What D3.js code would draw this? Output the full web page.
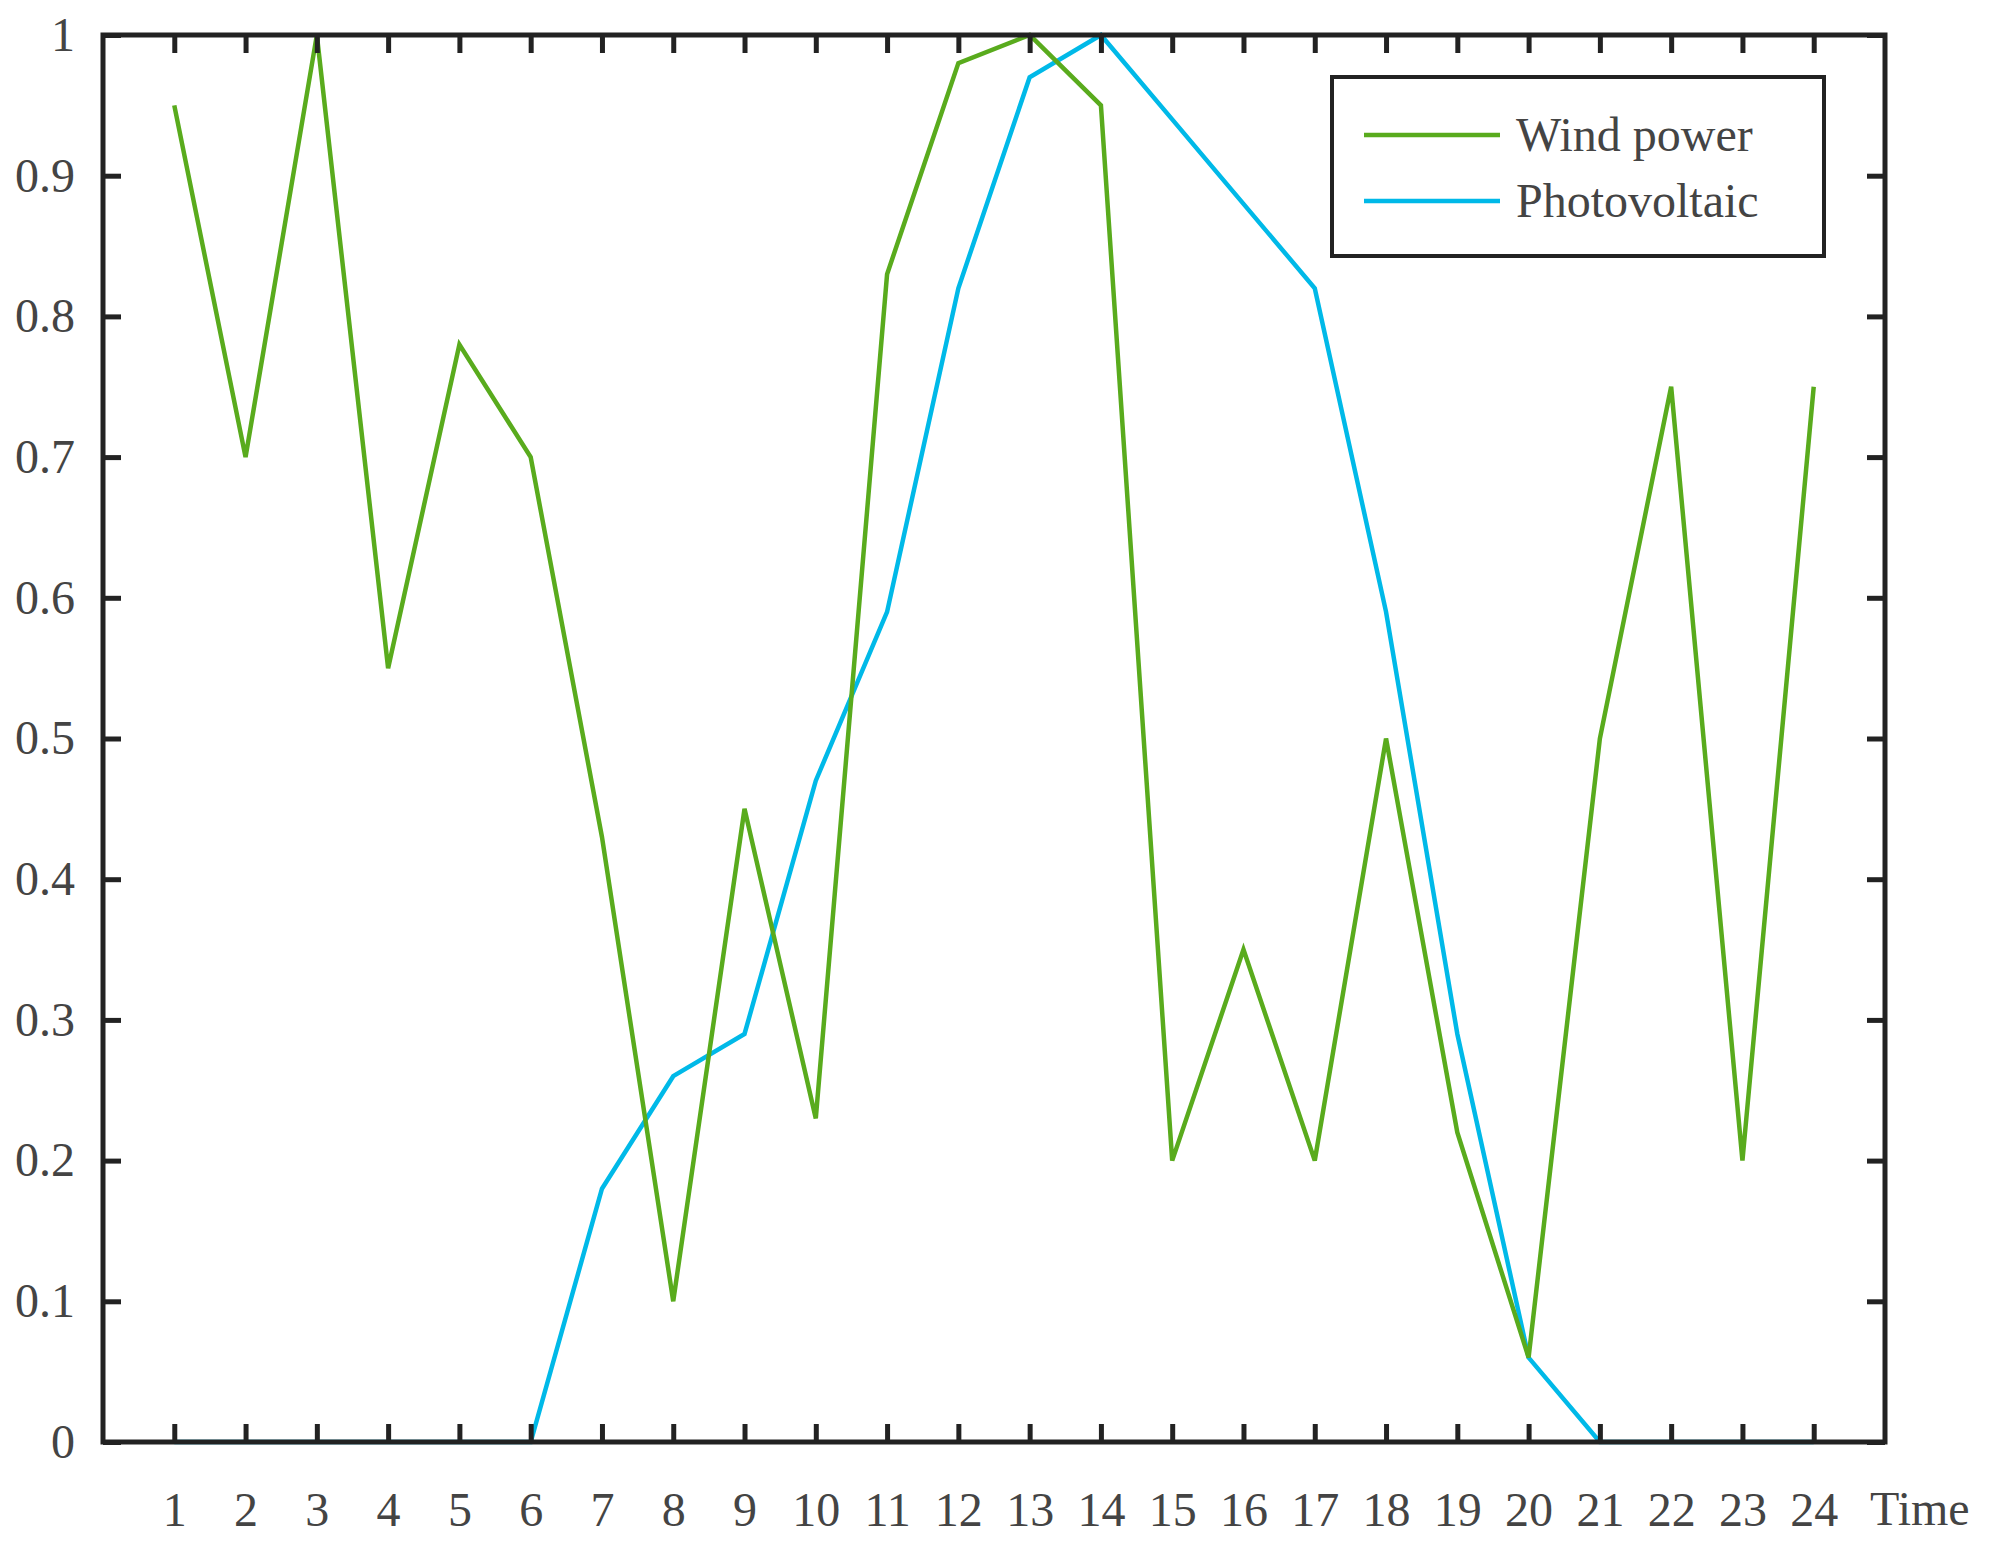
<!DOCTYPE html>
<html><head><meta charset="utf-8">
<script src="https://cdn.jsdelivr.net/npm/d3@7"></script>
<style>body{margin:0;background:#fff}</style>
</head><body><div id="vis"></div>
<script>
const hours = d3.range(1, 25);
const windPower = [0.95,0.70,1.0,0.55,0.78,0.70,0.43,0.10,0.45,0.23,0.83,0.98,1.0,0.95,0.20,0.35,0.20,0.50,0.22,0.06,0.50,0.75,0.20,0.75];
const photovoltaic = [0,0,0,0,0,0,0.18,0.26,0.29,0.47,0.59,0.82,0.97,1.0,0.94,0.88,0.82,0.59,0.29,0.06,0,0,0,0];
const yTicks = d3.range(0, 11).map(d => d / 10);

const W = 2004, H = 1550;
const M = {left: 103, top: 35, right: 2004 - 1885, bottom: 1550 - 1442};
const VW = W - M.left - M.right, VH = H - M.top - M.bottom;
const FONT = "'Liberation Serif','Times New Roman',serif";

const svg = d3.select("#vis").append("svg").attr("width", W).attr("height", H);
const g = svg.append("g").attr("transform", `translate(${M.left},${M.top})`);

const X = d3.scaleLinear().domain([0, 25]).range([0, VW]);
const Y = d3.scaleLinear().domain([0, 1]).range([VH, 0]);

// lines
const line = d3.line().x((d, i) => X(hours[i])).y(d => Y(d));
g.append("path").datum(photovoltaic).attr("d", line)
  .attr("fill", "none").attr("stroke", "#00b9e8").attr("stroke-width", 4.5);
g.append("path").datum(windPower).attr("d", line)
  .attr("fill", "none").attr("stroke", "#59ab1d").attr("stroke-width", 4.5);

// axes
function styleAxis(sel) {
  sel.select(".domain").remove();
  sel.selectAll(".tick line").attr("stroke", "#222").attr("stroke-width", 5);
  sel.selectAll("text").attr("font-family", FONT).attr("font-size", 48).attr("fill", "#444");
}
g.append("g").attr("transform", `translate(0,${VH})`)
  .call(d3.axisBottom(X).tickValues(hours).tickSizeInner(-18).tickPadding(50))
  .call(styleAxis);
g.append("g").call(d3.axisTop(X).tickValues(hours).tickSizeInner(-18).tickFormat(""))
  .call(styleAxis);
g.append("g").call(d3.axisLeft(Y).tickValues(yTicks).tickSizeInner(-18).tickPadding(28)
  .tickFormat(d => d === 0 ? "0" : d === 1 ? "1" : d3.format(".1f")(d).replace(/^0/, "0")))
  .call(styleAxis);
g.append("g").attr("transform", `translate(${VW},0)`)
  .call(d3.axisRight(Y).tickValues(yTicks).tickSizeInner(-18).tickFormat(""))
  .call(styleAxis);

g.append("rect").attr("width", VW).attr("height", VH)
  .attr("fill", "none").attr("stroke", "#222").attr("stroke-width", 5);

svg.append("text").attr("x", 1870).attr("y", 1525)
  .attr("font-family", FONT).attr("font-size", 48).attr("fill", "#444").text("Time");

// legend
const lg = svg.append("g").attr("transform", "translate(1332,77)");
lg.append("rect").attr("width", 492).attr("height", 179)
  .attr("fill", "#fff").attr("stroke", "#222").attr("stroke-width", 4);
const items = [["Wind power", "#59ab1d"], ["Photovoltaic", "#00b9e8"]];
items.forEach((it, i) => {
  const y = 58 + i * 66;
  lg.append("line").attr("x1", 32).attr("x2", 168).attr("y1", y).attr("y2", y)
    .attr("stroke", it[1]).attr("stroke-width", 4.5);
  lg.append("text").attr("x", 184).attr("y", y + 16)
    .attr("font-family", FONT).attr("font-size", 48).attr("fill", "#444").text(it[0]);
});
</script></body></html>
